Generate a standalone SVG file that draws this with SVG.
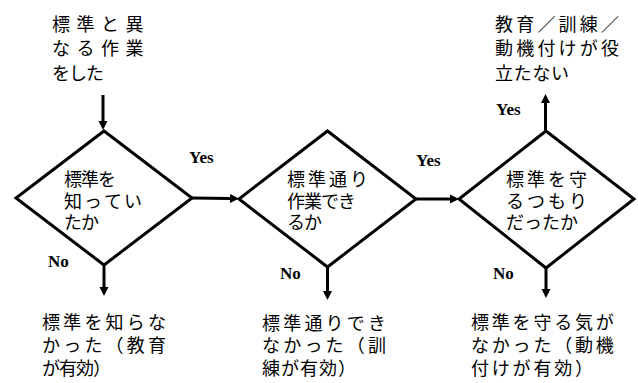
<svg xmlns="http://www.w3.org/2000/svg" width="638" height="383" viewBox="0 0 638 383">
<style>
.jp{font-family:"Liberation Sans","Noto Sans CJK JP",sans-serif;font-size:18px;fill:#000}
.lbl{font-family:"Liberation Serif","Times New Roman",serif;font-size:17px;font-weight:bold;fill:#000}
.dia{fill:#fff;stroke:#000;stroke-width:3;stroke-linejoin:miter}
.con{fill:none;stroke:#000;stroke-width:3}
</style>
<defs>
<marker id="ah" markerUnits="userSpaceOnUse" markerWidth="10" markerHeight="10" refX="0" refY="5" orient="auto" viewBox="0 0 10 10">
<path d="M0,0.5 L9,5 L0,9.5 z" fill="#000"/>
</marker>
</defs>
<rect width="638" height="383" fill="#fff"/>

<g id="connectors">
<line class="con" x1="103" y1="95" x2="103" y2="121" marker-end="url(#ah)"/>
<line class="con" x1="192" y1="198" x2="230" y2="198.5" marker-end="url(#ah)"/>
<line class="con" x1="416" y1="199" x2="450" y2="199" marker-end="url(#ah)"/>
<line class="con" x1="104" y1="265" x2="104" y2="287" marker-end="url(#ah)"/>
<line class="con" x1="327.5" y1="267" x2="327.5" y2="291" marker-end="url(#ah)"/>
<line class="con" x1="546" y1="268" x2="546" y2="289" marker-end="url(#ah)"/>
<line class="con" x1="545.5" y1="130" x2="545.5" y2="103" marker-end="url(#ah)"/>
</g>

<g id="start">
<text class="jp" y="31"><tspan x="52 76.5 101 125.5">標準と異</tspan></text>
<text class="jp" y="55"><tspan x="52 76.5 101 125.5">なる作業</tspan></text>
<text class="jp" y="80"><tspan x="52 69 86">をした</tspan></text>
</g>

<g id="d1">
<polygon class="dia" points="104,131 192,198 104,265 16,198"/>
<text class="jp" y="186"><tspan x="64 81 98">標準を</tspan></text>
<text class="jp" y="208"><tspan x="64 84 104 124">知ってい</tspan></text>
<text class="jp" y="229"><tspan x="64 81">たか</tspan></text>
</g>

<g id="d2">
<polygon class="dia" points="327.5,131 416,199 327.5,267 239,199"/>
<text class="jp" y="186"><tspan x="287 308 329 350">標準通り</tspan></text>
<text class="jp" y="208"><tspan x="287 304 321 338">作業でき</tspan></text>
<text class="jp" y="229"><tspan x="287 304">るか</tspan></text>
</g>

<g id="d3">
<polygon class="dia" points="546,131 634,199 546,268 459,199"/>
<text class="jp" y="186"><tspan x="506 527 548 569">標準を守</tspan></text>
<text class="jp" y="208"><tspan x="506 527 548 569">るつもり</tspan></text>
<text class="jp" y="229"><tspan x="506 524 542 560">だったか</tspan></text>
</g>

<g id="r1">
<text class="jp" y="329"><tspan x="42 63.2 84.4 105.6 126.8 148">標準を知らな</tspan></text>
<text class="jp" y="352"><tspan x="42 63.2 84.4 105.6 126.8 148">かった（教育</tspan></text>
<text class="jp" y="375"><tspan x="42 59 76 93">が有効）</tspan></text>
</g>

<g id="r2">
<text class="jp" y="330"><tspan x="262 283.2 304.4 325.6 346.8 368">標準通りでき</tspan></text>
<text class="jp" y="352"><tspan x="262 283.2 304.4 325.6 346.8 368">なかった（訓</tspan></text>
<text class="jp" y="375"><tspan x="262 281 300 319 338">練が有効）</tspan></text>
</g>

<g id="r3">
<text class="jp" y="329"><tspan x="471 491.8 512.6 533.4 554.2 575 595.8">標準を守る気が</tspan></text>
<text class="jp" y="352"><tspan x="471 491.8 512.6 533.4 554.2 575 595.8">なかった（動機</tspan></text>
<text class="jp" y="375"><tspan x="471 491.8 512.6 533.4 554.2 575">付けが有効）</tspan></text>
</g>

<g id="r4">
<text class="jp" y="31"><tspan x="495 516.2 537.4 558.6 579.8 601">教育／訓練／</tspan></text>
<text class="jp" y="55"><tspan x="495 516.2 537.4 558.6 579.8 601">動機付けが役</tspan></text>
<text class="jp" y="80"><tspan x="495 513.7 532.4 551">立たない</tspan></text>
</g>

<g id="labels">
<text class="lbl" x="189" y="163">Yes</text>
<text class="lbl" x="416" y="166">Yes</text>
<text class="lbl" x="496" y="115">Yes</text>
<text class="lbl" x="48" y="267">No</text>
<text class="lbl" x="280" y="279">No</text>
<text class="lbl" x="493" y="279">No</text>
</g>
</svg>
